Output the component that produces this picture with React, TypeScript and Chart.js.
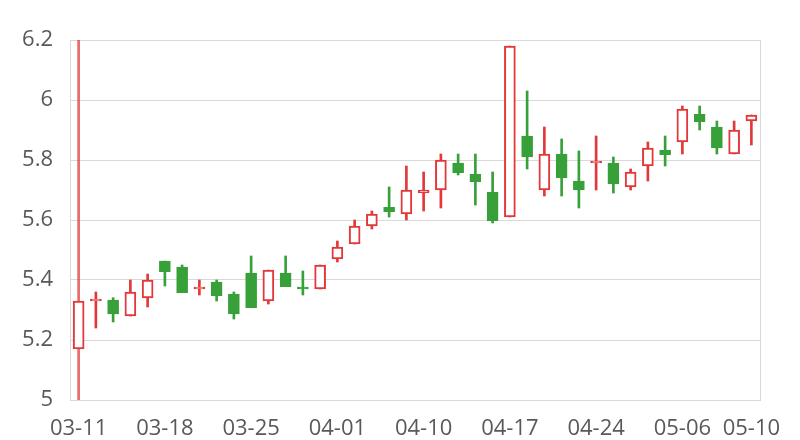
import { useEffect, useRef } from 'react';
import { Chart, registerables } from 'chart.js';

Chart.register(...registerables);

const categories = [
  '03-11', '03-12', '03-13', '03-14', '03-15',
  '03-18', '03-19', '03-20', '03-21', '03-22',
  '03-25', '03-26', '03-27', '03-28', '03-29',
  '04-01', '04-02', '04-03', '04-04', '04-09',
  '04-10', '04-11', '04-12', '04-15', '04-16',
  '04-17', '04-18', '04-19', '04-22', '04-23',
  '04-24', '04-25', '04-26', '04-29', '04-30',
  '05-06', '05-07', '05-08', '05-09', '05-10',
];

const tickLabels = ['03-11', '03-18', '03-25', '04-01', '04-10', '04-17', '04-24', '05-06', '05-10'];

const openValues = [
  5.17, 5.33, 5.333, 5.28, 5.34,
  5.463, 5.443, 5.37, 5.393, 5.353,
  5.423, 5.33, 5.423, 5.372, 5.37,
  5.47, 5.52, 5.58, 5.642, 5.62,
  5.69, 5.70, 5.79, 5.752, 5.692,
  5.61, 5.88, 5.70, 5.82, 5.73,
  5.79, 5.79, 5.71, 5.78, 5.832,
  5.86, 5.952, 5.91, 5.82, 5.93,
];

const closeValues = [
  5.33, 5.333, 5.287, 5.36, 5.40,
  5.428, 5.358, 5.372, 5.348, 5.287,
  5.308, 5.433, 5.378, 5.37, 5.45,
  5.51, 5.58, 5.62, 5.628, 5.70,
  5.70, 5.80, 5.758, 5.728, 5.598,
  6.18, 5.81, 5.82, 5.74, 5.70,
  5.792, 5.72, 5.76, 5.84, 5.818,
  5.97, 5.928, 5.84, 5.90, 5.95,
];

const highValues = [
  6.2, 5.36, 5.341, 5.40, 5.42,
  5.463, 5.45, 5.40, 5.40, 5.36,
  5.48, 5.433, 5.48, 5.43, 5.45,
  5.53, 5.60, 5.63, 5.71, 5.78,
  5.76, 5.82, 5.82, 5.82, 5.76,
  6.18, 6.03, 5.91, 5.87, 5.83,
  5.88, 5.81, 5.77, 5.86, 5.88,
  5.98, 5.98, 5.93, 5.93, 5.95,
];

const lowValues = [
  5.0, 5.24, 5.26, 5.28, 5.31,
  5.38, 5.358, 5.35, 5.33, 5.27,
  5.308, 5.32, 5.378, 5.35, 5.37,
  5.46, 5.52, 5.57, 5.61, 5.60,
  5.63, 5.64, 5.75, 5.65, 5.59,
  5.61, 5.77, 5.68, 5.68, 5.64,
  5.70, 5.69, 5.70, 5.73, 5.78,
  5.82, 5.90, 5.82, 5.82, 5.85,
];

const RED = '#e2383a';
const GREEN = '#38a038';
const GRID = '#d9d9d9';
const TEXT = '#595959';
const FONT = { family: 'Open Sans', size: 22 };

export default function App() {
  const ref = useRef<HTMLCanvasElement>(null);

  useEffect(() => {
    const up = closeValues.map((c, i) => c >= openValues[i]);
    const colors = up.map((u) => (u ? RED : GREEN));
    const wickColors = up.map((u, i) => (i === 0 ? 'rgba(226,56,58,0.75)' : u ? RED : GREEN));
    const chart = new Chart(ref.current as HTMLCanvasElement, {
      type: 'bar',
      data: {
        labels: categories,
        datasets: [
          {
            label: 'body',
            data: categories.map((_, i) => [openValues[i], closeValues[i]]) as any,
            backgroundColor: up.map((u) => (u ? '#ffffff' : GREEN)),
            borderColor: colors,
            borderWidth: 2,
            borderSkipped: false,
            barThickness: 11,
            minBarLength: 2,
            grouped: false,
            order: 0,
          } as any,
          {
            label: 'wick',
            data: categories.map((_, i) => [lowValues[i], highValues[i]]) as any,
            backgroundColor: wickColors,
            borderWidth: 0,
            barThickness: 2,
            grouped: false,
            order: 1,
          } as any,
        ],
      },
      options: {
        animation: false,
        responsive: true,
        maintainAspectRatio: false,
        layout: { padding: { top: 40, left: 0, right: 0, bottom: 0 } },
        plugins: { legend: { display: false }, tooltip: { enabled: false } },
        scales: {
          x: {
            offset: true,
            grid: { display: false, drawTicks: false },
            border: { color: GRID },
            ticks: {
              autoSkip: false,
              maxRotation: 0,
              minRotation: 0,
              padding: 16,
              color: TEXT,
              font: FONT,
              callback: (_v: any, i: number) => (tickLabels.includes(categories[i]) ? categories[i] : ''),
            },
            afterFit: (s: any) => {
              s.height = 40;
            },
          },
          y: {
            min: 5,
            max: 6.2,
            ticks: {
              stepSize: 0.2,
              padding: 17,
              color: TEXT,
              font: FONT,
              callback: (v: any) => String(Number(Number(v).toFixed(1))),
            },
            grid: { color: GRID, drawTicks: false },
            border: { color: GRID },
            afterFit: (s: any) => {
              s.width = 70;
            },
          },
          y2: {
            position: 'right',
            min: 5,
            max: 6.2,
            ticks: { display: false },
            grid: { display: false, drawTicks: false },
            border: { display: true, color: GRID },
            afterFit: (s: any) => {
              s.width = 40;
            },
          },
        },
      } as any,
    });
    return () => chart.destroy();
  }, []);

  return (
    <div style={{ position: 'absolute', left: 0, top: 0, width: 800, height: 440 }}>
      <canvas ref={ref} />
    </div>
  );
}
